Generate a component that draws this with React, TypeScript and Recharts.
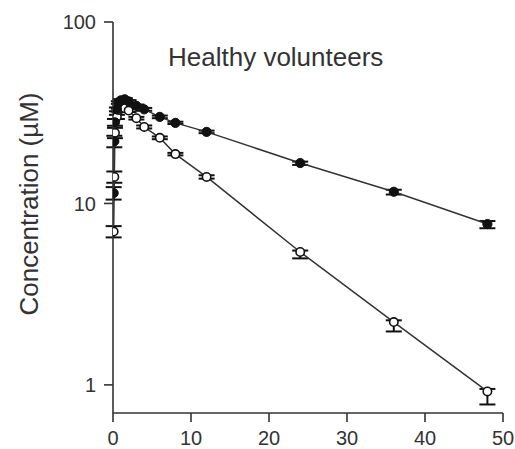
import React from 'react';
import { ComposedChart, Line, XAxis, YAxis, ErrorBar } from 'recharts';

const times = [0.083, 0.167, 0.25, 0.5, 0.75, 1, 1.5, 2, 3, 4, 6, 8, 12, 24, 36, 48];
const filledMean = [11.4, 22, 28, 33, 36, 37, 37.5, 36.5, 34.5, 33, 30, 27.8, 24.8, 16.7, 11.6, 7.7];
const filledErrLow = [0.9, 1.6, 1.2, 0.8, 0.6, 0.6, 0.6, 0.6, 0.6, 0.6, 0.5, 0.4, 0.4, 0.4, 0.4, 0.4];
const filledErrHigh = [0.9, 1.6, 1.2, 0.8, 0.6, 0.6, 0.6, 0.6, 0.6, 0.6, 0.5, 0.4, 0.4, 0.3, 0.3, 0.3];
const openMean = [7, 14, 24.5, 30, 32.7, 33.5, 33.5, 32.5, 29.5, 26.4, 23, 18.7, 14, 5.4, 2.22, 0.92];
const openErrLow = [0.5, 1.0, 1.6, 0.8, 0.6, 0.6, 0.6, 0.6, 0.5, 0.5, 0.4, 0.3, 0.3, 0.42, 0.25, 0.14];
const openErrHigh = [0.5, 1.0, 1.6, 0.8, 0.6, 0.6, 0.6, 0.6, 0.5, 0.5, 0.4, 0.3, 0.3, 0.1, 0.05, 0.03];

const xTicks = [0, 10, 20, 30, 40, 50];
const yTicks = [1, 10, 100];

const title = 'Healthy volunteers';
const yLabel = 'Concentration (\u00b5M)';

const data = times.map((t, i) => ({
  t,
  filled: filledMean[i],
  filledErr: [filledErrLow[i], filledErrHigh[i]],
  open: openMean[i],
  openErr: [openErrLow[i], openErrHigh[i]],
}));

const FONT = '"Liberation Sans", Arial, sans-serif';
const INK = '#333';

const FilledDot = (props: any) => {
  const { cx, cy } = props;
  if (cx == null || cy == null) return null;
  return <circle cx={cx} cy={cy} r={4.6} fill="#111" stroke="#111" strokeWidth={1} />;
};

const OpenDot = (props: any) => {
  const { cx, cy } = props;
  if (cx == null || cy == null) return null;
  return <circle cx={cx} cy={cy} r={4.2} fill="#fff" stroke="#111" strokeWidth={1.6} />;
};

const YLabelContent = () => (
  <text
    x={29}
    y={204}
    transform="rotate(-90 29 204)"
    textAnchor="middle"
    dominantBaseline="central"
    fontFamily={FONT}
    fontSize={26}
    fill={INK}
  >
    {yLabel}
  </text>
);

export default function App() {
  return (
    <div style={{ position: 'absolute', left: 0, top: 0, width: 515, height: 449, background: '#fff' }}>
      <ComposedChart
        width={515}
        height={449}
        data={data}
        margin={{ top: 22, right: 12, bottom: 0, left: 0 }}
      >
        <XAxis
          dataKey="t"
          type="number"
          domain={[0, 50]}
          ticks={xTicks}
          allowDataOverflow
          height={36}
          tickSize={9}
          tickMargin={9}
          axisLine={{ stroke: '#333', strokeWidth: 1.6 }}
          tickLine={{ stroke: '#333', strokeWidth: 1.6 }}
          tick={{ fontFamily: FONT, fontSize: 20, fill: INK }}
        />
        <YAxis
          type="number"
          scale="log"
          domain={[0.7, 100]}
          ticks={yTicks}
          allowDataOverflow
          width={113}
          tickSize={9}
          tickMargin={8}
          axisLine={{ stroke: '#333', strokeWidth: 1.6 }}
          tickLine={{ stroke: '#333', strokeWidth: 1.6 }}
          tick={{ fontFamily: FONT, fontSize: 20, fill: INK }}
          label={{ content: YLabelContent }}
        />
        <Line
          dataKey="open"
          stroke="#333"
          strokeWidth={1.5}
          dot={<OpenDot />}
          activeDot={false}
          isAnimationActive={false}
        >
          <ErrorBar dataKey="openErr" width={8} stroke="#111" strokeWidth={2} direction="y" />
        </Line>
        <Line
          dataKey="filled"
          stroke="#333"
          strokeWidth={1.5}
          dot={<FilledDot />}
          activeDot={false}
          isAnimationActive={false}
        >
          <ErrorBar dataKey="filledErr" width={8} stroke="#111" strokeWidth={2} direction="y" />
        </Line>
      </ComposedChart>
      <div
        style={{
          position: 'absolute',
          left: 168,
          top: 42,
          fontFamily: FONT,
          fontSize: 26,
          color: INK,
          whiteSpace: 'nowrap',
          lineHeight: '30px',
        }}
      >
        {title}
      </div>
    </div>
  );
}
